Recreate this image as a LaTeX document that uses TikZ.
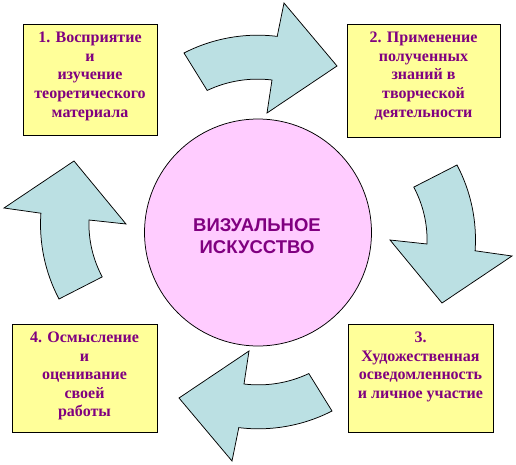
\documentclass[tikz,border=0pt]{standalone}
\usepackage{fontspec}
\setmainfont{Liberation Serif}
\newfontfamily\boxfont{Liberation Serif Bold}
\newfontfamily\hubfont{Liberation Sans Bold}
\definecolor{boxfill}{HTML}{FFFF99}
\definecolor{arrowfill}{HTML}{BBE0E3}
\definecolor{circlefill}{HTML}{FFCCFF}
\definecolor{textpurple}{HTML}{800080}
\begin{document}
\begin{tikzpicture}[x=1pt,y=-1pt,
  stagebox/.style={draw=black, fill=boxfill, line width=0.8pt, inner sep=0pt},
  stagetext/.style={anchor=north, inner sep=0pt, align=center, text=textpurple,
    font=\boxfont\fontsize{16}{18.6}\selectfont},
  bentarrow/.style={draw=black, fill=arrowfill, line width=0.75pt, line join=miter},
  hub/.style={draw=black, fill=circlefill, line width=0.75pt, circle, inner sep=0pt, minimum size=227pt},
  hubtext/.style={inner sep=0pt, align=center, text=textpurple,
    font=\hubfont\fontsize{18.5}{22.3}\selectfont}]
\useasboundingbox (0,0) rectangle (516,465);

% central circle
\node[hub] (hub) at (258,232.5) {};
\node[hubtext] (hubtxt) at (257,236) {ВИЗУАЛЬНОЕ\\ИСКУССТВО};

% arrows (top and right), then rotated copies (bottom and left)
\draw[bentarrow] (184,53) arc[start angle=-117.2, end angle=-83, radius=161]
  -- (284,3) -- (337,66) -- (267,113) -- (272,80)
  arc[start angle=-83, end angle=-115.3, radius=118] -- cycle;
\draw[bentarrow] (414,187) -- (457,165) arc[start angle=-27.8, end angle=4, radius=160]
  -- (512,256) -- (442,303) -- (390,240) -- (427,244)
  arc[start angle=2, end angle=-28.2, radius=112] -- cycle;
\begin{scope}[rotate around={180:(258,232)}]
\draw[bentarrow] (184,53) arc[start angle=-117.2, end angle=-83, radius=161]
  -- (284,3) -- (337,66) -- (267,113) -- (272,80)
  arc[start angle=-83, end angle=-115.3, radius=118] -- cycle;
\draw[bentarrow] (414,187) -- (457,165) arc[start angle=-27.8, end angle=4, radius=160]
  -- (512,256) -- (442,303) -- (390,240) -- (427,244)
  arc[start angle=2, end angle=-28.2, radius=112] -- cycle;
\end{scope}

% boxes
\node[stagebox, minimum width=134pt, minimum height=111pt] (b1) at (90,79.5) {};
\node[stagetext] (t1) at (90,31.9) {1. Восприятие\\и\\изучение\\теоретического\\материала};

\node[stagebox, minimum width=153pt, minimum height=113pt] (b2) at (423.5,80.5) {};
\node[stagetext] (t2) at (423.5,31.9) {2. Применение\\полученных\\знаний в\\творческой\\деятельности};

\node[stagebox, minimum width=145pt, minimum height=108pt] (b3) at (420.5,378) {};
\node[stagetext] (t3) at (420.5,331.9) {3.\\Художественная\\осведомленность\\и личное участие};

\node[stagebox, minimum width=145pt, minimum height=108pt] (b4) at (84.5,378) {};
\node[stagetext] (t4) at (84.5,331.8) {4. Осмысление\\и\\оценивание\\своей\\работы};
\end{tikzpicture}
\end{document}
